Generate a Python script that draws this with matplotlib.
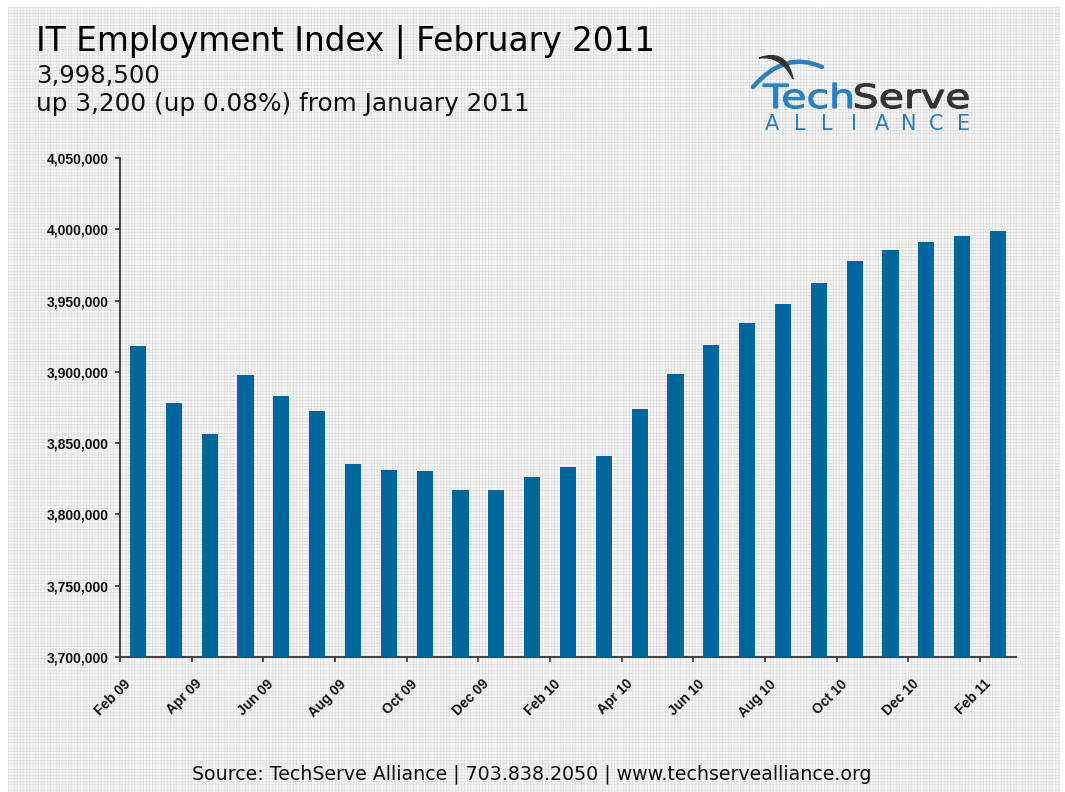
import numpy as np
import matplotlib
matplotlib.use('Agg')
import matplotlib.pyplot as plt
from matplotlib.path import Path
from matplotlib.patches import PathPatch
from matplotlib.textpath import TextPath
from matplotlib.font_manager import FontProperties
from matplotlib.transforms import Affine2D, ScaledTranslation

# monthly IT employment index, Feb 2009 .. Feb 2011
months = ['Feb 09', 'Mar 09', 'Apr 09', 'May 09', 'Jun 09', 'Jul 09', 'Aug 09',
          'Sep 09', 'Oct 09', 'Nov 09', 'Dec 09', 'Jan 10', 'Feb 10', 'Mar 10',
          'Apr 10', 'May 10', 'Jun 10', 'Jul 10', 'Aug 10', 'Sep 10', 'Oct 10',
          'Nov 10', 'Dec 10', 'Jan 11', 'Feb 11']
employment = [3918000, 3878400, 3856600, 3898100, 3883300, 3872800, 3835200,
              3831000, 3830300, 3816900, 3816900, 3826100, 3833100, 3840850,
              3874200, 3898800, 3918500, 3934000, 3947400, 3962200, 3977700,
              3985400, 3991000, 3995300, 3998500]
yticks = [3700000, 3750000, 3800000, 3850000, 3900000, 3950000, 4000000, 4050000]

W, H = 1065, 792
fig = plt.figure(figsize=(W / 100, H / 100), dpi=100)
fig.patch.set_facecolor('white')


def fx(x):
    return x / W


def fy(y):
    return 1 - y / H


# textured grey background of the slide
bg = fig.add_axes([fx(8), 0, fx(1060) - fx(8), fy(7)], zorder=-10)
h, w = H - 7, 1060 - 8
rows = np.arange(h)
cols = np.arange(w)
tex = np.full((h, w), 0.945)
tex[rows % 3 == 0, :] -= 0.05
tex[:, cols % 3 == 0] -= 0.05
tex[rows % 7 == 3, :] += 0.04
tex[:, cols % 7 == 3] += 0.04
bg.imshow(np.clip(tex, 0, 1), cmap='gray', vmin=0, vmax=1, aspect='auto',
          interpolation='nearest')
bg.axis('off')

# main chart
tick_font = dict(fontfamily='Liberation Sans', fontweight='bold',
                 fontsize=10, color='#111111')
ax = fig.add_axes([fx(120), fy(657), fx(1016) - fx(120), fy(158) - fy(657)])
ax.patch.set_alpha(0)
x = np.arange(len(months))
ax.bar(x, employment, width=0.45, color='#00669b', zorder=3)
ax.set_xlim(-0.5, len(months) - 0.5)
ax.set_ylim(3700000, 4050000)
ax.set_yticks(yticks, labels=[f'{v:,}' for v in yticks], **tick_font)
ax.set_xticks(x[::2] - 0.5, labels=months[::2], rotation=45, ha='right',
              va='center', rotation_mode='anchor', **tick_font)
for s in ['top', 'right']:
    ax.spines[s].set_visible(False)
for s in ['left', 'bottom']:
    ax.spines[s].set_color('#333333')
    ax.spines[s].set_linewidth(1.3)
ax.tick_params(axis='both', length=3.8, width=1.2, color='#333333')
ax.tick_params(axis='y', pad=4)
ax.tick_params(axis='x', pad=14)
shift = ScaledTranslation(0.085, 0, fig.dpi_scale_trans)
for lab in ax.get_xticklabels():
    lab.set_transform(lab.get_transform() + shift)

# headings
fig.text(fx(36), fy(42), 'IT Employment Index | February 2011', fontsize=23.6,
         va='center', ha='left', color='black')
fig.text(fx(36), fy(76), '3,998,500', fontsize=17.6, va='center', ha='left',
         color='#111111')
fig.text(fx(36), fy(104), 'up 3,200 (up 0.08%) from January 2011',
         fontsize=17.8, va='center', ha='left', color='#111111')

# source line
fig.text(fx(532), fy(774),
         'Source: TechServe Alliance | 703.838.2050 | www.techservealliance.org',
         fontsize=13.7, ha='center', va='center', color='#111111')

# logo: wide "TechServe" word drawn as stretched text paths
blue = '#2b7fc0'
dark = '#333333'
fp = FontProperties(family='DejaVu Sans')
tp_tech = TextPath((0, 0), 'Tech', size=33, prop=fp)
tp_serve = TextPath((0, 0), 'Serve', size=33, prop=fp)
ext_t = tp_tech.get_extents()
ext_s = tp_serve.get_extents()
sx = 209 / (ext_t.width + ext_s.width + 6)
base = H - 108
x0 = 763
fig.add_artist(PathPatch(tp_tech, facecolor=blue, edgecolor=blue, lw=0.8,
                         transform=Affine2D().scale(sx, 1)
                         .translate(x0 - ext_t.x0 * sx, base)))
x1 = x0 + (ext_t.width + 3) * sx
fig.add_artist(PathPatch(tp_serve, facecolor=dark, edgecolor=dark, lw=0.8,
                         transform=Affine2D().scale(sx, 1)
                         .translate(x1 - ext_s.x0 * sx, base)))
for i, ch in enumerate('ALLIANCE'):
    fig.text(fx(772 + i * 27.4), fy(124), ch, fontsize=15, color=blue,
             ha='center', va='center')

# swooshes of the logo
blue_arc = Path([(fx(753), fy(87)), (fx(785), fy(50)), (fx(822), fy(67))],
                [Path.MOVETO, Path.CURVE3, Path.CURVE3])
fig.add_artist(PathPatch(blue_arc, transform=fig.transFigure, fill=False,
                         edgecolor=blue, lw=3.2, capstyle='round'))
dark_arc = Path([(fx(759), fy(58)), (fx(787), fy(48)), (fx(793), fy(79)),
                 (fx(781), fy(55)), (fx(759), fy(58))],
                [Path.MOVETO, Path.CURVE3, Path.CURVE3, Path.CURVE3, Path.CURVE3])
fig.add_artist(PathPatch(dark_arc, transform=fig.transFigure,
                         facecolor=dark, edgecolor=dark, lw=1))

fig.savefig('out.png', dpi=100)
